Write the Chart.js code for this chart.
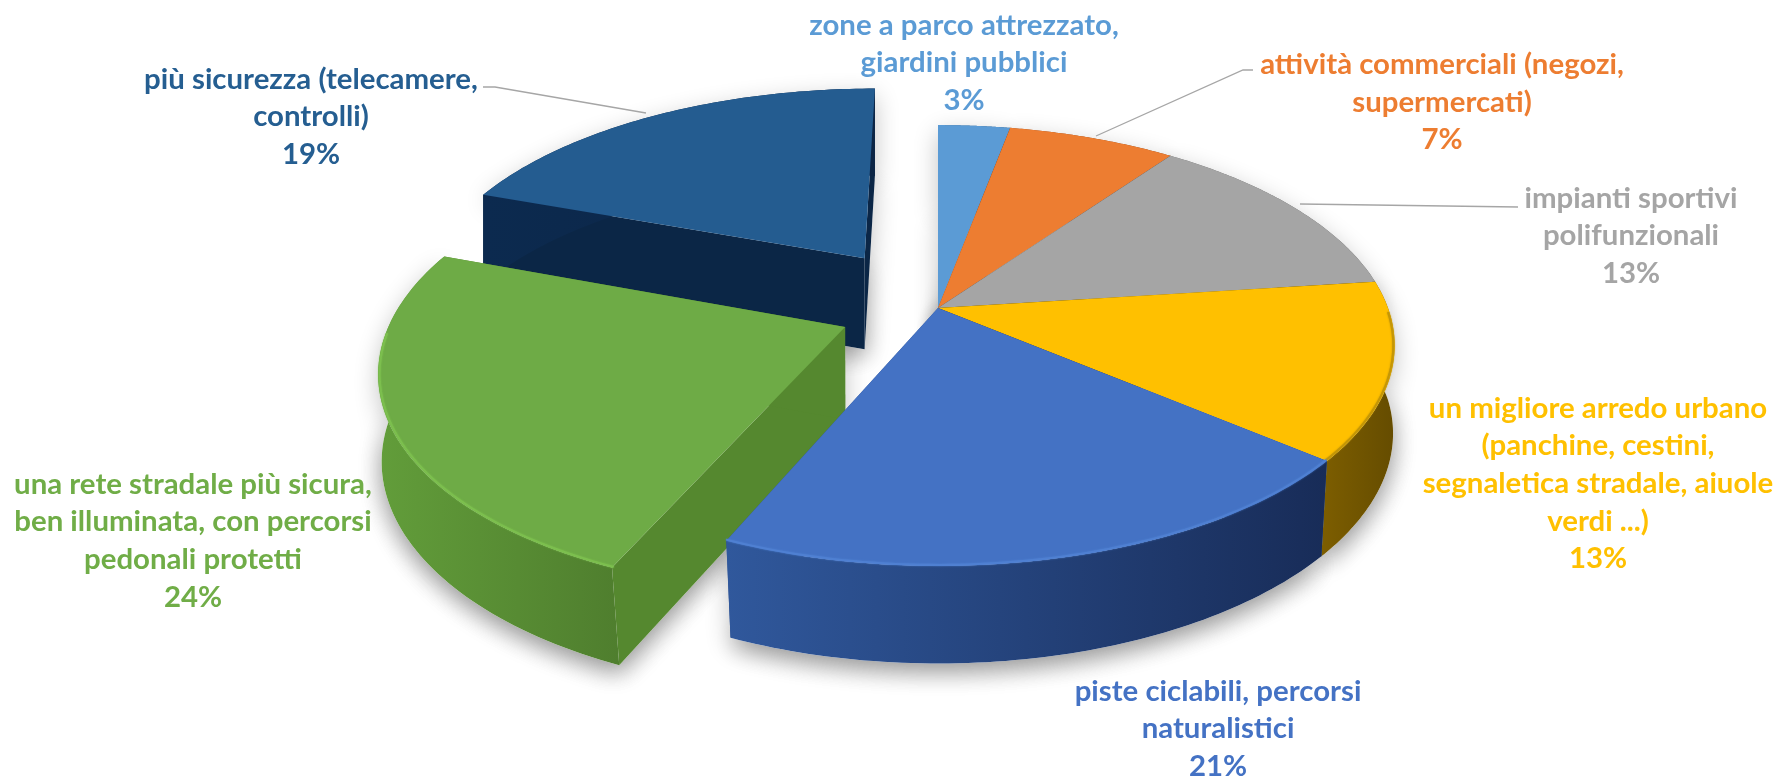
<!DOCTYPE html>
<html><head><meta charset="utf-8">
<style>html,body{margin:0;padding:0;background:#fff}canvas{display:block}</style>
<script src="https://cdn.jsdelivr.net/npm/chart.js@4/dist/chart.umd.min.js"></script>
</head><body><canvas id="c" width="1776" height="777"></canvas>
<script>
const categories = [
  "zone a parco attrezzato, giardini pubblici",
  "attività commerciali (negozi, supermercati)",
  "impianti sportivi polifunzionali",
  "un migliore arredo urbano (panchine, cestini, segnaletica stradale, aiuole verdi ...)",
  "piste ciclabili, percorsi naturalistici",
  "una rete stradale più sicura, ben illuminata, con percorsi pedonali protetti",
  "più sicurezza (telecamere, controlli)"
];
const shares = [3, 7, 13, 13, 20.5, 24.01, 19.49];
const explode = [0, 0, 0, 0, 0, 75, 100];
const topColors = ["#5B9BD5","#ED7D31","#A5A5A5","#FFC000","#4472C4","#6EAB46","#245C90"];
const labelColors = ["#5B9BD5","#ED7D31","#A5A5A5","#FFC000","#4472C4","#70AD47","#255E91"];
const wallLeft  = ["#376a97","#96491a","#666666","#7d5e00","#30589c","#629d3a","#0c2a4f"];
const wallRight = ["#2a5580","#7d3d15","#555555","#654c00","#182c58","#4f7e2e","#0c2545"];
const cutColors = ["#376a97","#96491a","#666666","#6e5400","#2a4c88","#55882f","#0b2646"];
const rimColors = ["#5B9BD5","#ED7D31","#A5A5A5","#c49606","#4f80d2","#7cbf4e","#255E91"];
const labelLines = [
  ["zone a parco attrezzato,","giardini pubblici","3%"],
  ["attività commerciali (negozi,","supermercati)","7%"],
  ["impianti sportivi","polifunzionali","13%"],
  ["un migliore arredo urbano","(panchine, cestini,","segnaletica stradale, aiuole","verdi ...)","13%"],
  ["piste ciclabili, percorsi","naturalistici","21%"],
  ["una rete stradale più sicura,","ben illuminata, con percorsi","pedonali protetti","24%"],
  ["più sicurezza (telecamere,","controlli)","19%"]
];
/* drawing layout, not data */
const labelBoxes = [[964,34.5],[1442,74],[1631,207.5],[1598,417.5],[1218,700.5],[193,493.5],[311,88.5]];
const leaders = [
  [],
  [[1253,70],[1243,70],[1096,136]],
  [[1518,207],[1300,204]],
  [],[],[],
  [[483,87],[495,87],[646,113]]
];
const paintOrder = [6,0,1,2,3,5,4];
const view = {cx:938, cy:308, rx:450, ry:214, persp:0.17, depth:92, grow:0.3, taper:0.022};

function makeProjector(el){
  const p = el.getProps(['x','y','startAngle','endAngle','outerRadius'], true);
  const d = (el.options.offset||0)/p.outerRadius;
  const mid = (p.startAngle+p.endAngle)/2;
  const ox = d*Math.cos(mid), oy = d*Math.sin(mid);
  const pt = (t,r,z)=>{
    const u = r*Math.cos(t)+ox, v = r*Math.sin(t)+oy;
    const w = 1/(1-view.persp*v);
    return [view.cx+view.rx*u*w*(1-view.taper*z*Math.max(v,0)),
            view.cy+view.ry*v*w+view.depth*z*(1+view.grow*(w-1))];
  };
  return {pt, a0:p.startAngle, a1:p.endAngle};
}
function rim(P,z,rev){
  const n=72, out=[];
  for(let i=0;i<=n;i++){const f=rev?1-i/n:i/n; out.push(P.pt(P.a0+(P.a1-P.a0)*f,1,z));}
  return out;
}
function poly(ctx,pts){ctx.beginPath();pts.forEach((q,i)=>i?ctx.lineTo(q[0],q[1]):ctx.moveTo(q[0],q[1]));ctx.closePath();}

const pie3d = {
  id:'pie3d',
  beforeDatasetsDraw(chart){
    const ctx = chart.ctx, arcs = chart.getDatasetMeta(0).data;
    const P = arcs.map(makeProjector);
    ctx.save();
    ctx.shadowColor='rgba(0,0,0,0.24)'; ctx.shadowBlur=24; ctx.shadowOffsetX=0; ctx.shadowOffsetY=8; ctx.fillStyle='#fff';
    paintOrder.forEach(i=>{
      poly(ctx,[P[i].pt(0,0,1),...rim(P[i],1,false)]); ctx.fill();
      poly(ctx,[P[i].pt(0,0,0),...rim(P[i],0,false),...rim(P[i],1,true),P[i].pt(0,0,1)]); ctx.fill();
    });
    ctx.restore();
    paintOrder.forEach(i=>{
      const p=P[i];
      [p.a0,p.a1].forEach(t=>{
        poly(ctx,[p.pt(t,0,0),p.pt(t,1,0),p.pt(t,1,1),p.pt(t,0,1)]);
        ctx.fillStyle=cutColors[i]; ctx.fill();
      });
      const A=rim(p,0,false), B=rim(p,1,true);
      const xs=A.concat(B).map(q=>q[0]);
      const g=ctx.createLinearGradient(Math.min(...xs),0,Math.max(...xs),0);
      g.addColorStop(0,wallLeft[i]); g.addColorStop(1,wallRight[i]);
      poly(ctx,A.concat(B)); ctx.fillStyle=g; ctx.fill();
      poly(ctx,[p.pt(0,0,0),...rim(p,0,false)]);
      ctx.fillStyle=arcs[i].options.backgroundColor; ctx.fill();
      const front=[]; const n=72;
      for(let k=0;k<=n;k++){const t=p.a0+(p.a1-p.a0)*k/n; if(Math.sin(t)>0.02) front.push(p.pt(t,0.997,0));}
      if(front.length>1){
        ctx.save();
        ctx.beginPath(); front.forEach((q,k)=>k?ctx.lineTo(q[0],q[1]):ctx.moveTo(q[0],q[1]));
        ctx.strokeStyle=rimColors[i]; ctx.lineWidth=2; ctx.lineCap='round';
        ctx.shadowColor=rimColors[i]; ctx.shadowBlur=2; ctx.stroke();
        ctx.restore();
      }
    });
    return false;
  },
  afterDraw(chart){
    const ctx=chart.ctx;
    ctx.save();
    ctx.strokeStyle='#a6a6a6'; ctx.lineWidth=1.3;
    leaders.forEach(l=>{ if(!l.length) return; ctx.beginPath(); l.forEach((q,k)=>k?ctx.lineTo(q[0],q[1]):ctx.moveTo(q[0],q[1])); ctx.stroke(); });
    ctx.font='bold 29.4px Lato'; ctx.textAlign='center'; ctx.textBaseline='alphabetic';
    labelLines.forEach((lines,i)=>{
      ctx.fillStyle=labelColors[i];
      lines.forEach((s,k)=>ctx.fillText(s,labelBoxes[i][0],labelBoxes[i][1]+k*37.7));
    });
    ctx.restore();
  }
};
new Chart(document.getElementById('c'),{
  type:'pie',
  data:{labels:categories,datasets:[{data:shares,backgroundColor:topColors,offset:explode,borderWidth:0}]},
  options:{responsive:false,animation:false,layout:{padding:0},
    plugins:{legend:{display:false},tooltip:{enabled:false}}},
  plugins:[pie3d]
});
</script></body></html>
